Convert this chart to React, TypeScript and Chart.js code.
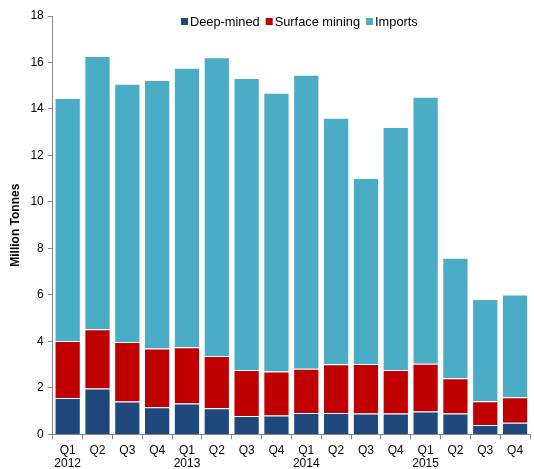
import React, { useEffect, useRef } from "react";
import { Chart, registerables } from "chart.js";

Chart.register(...registerables);

const quarters = ["Q1", "Q2", "Q3", "Q4", "Q1", "Q2", "Q3", "Q4", "Q1", "Q2", "Q3", "Q4", "Q1", "Q2", "Q3", "Q4"];
const years = ["2012", "", "", "", "2013", "", "", "", "2014", "", "", "", "2015", "", "", ""];
const deepMined = [1.57, 1.97, 1.42, 1.17, 1.33, 1.12, 0.79, 0.81, 0.92, 0.92, 0.9, 0.9, 0.98, 0.9, 0.4, 0.5];
const surfaceMining = [2.45, 2.55, 2.55, 2.53, 2.42, 2.25, 1.98, 1.9, 1.9, 2.1, 2.13, 1.87, 2.06, 1.52, 1.03, 1.1];
const totals = [14.47, 16.28, 15.08, 15.25, 15.77, 16.23, 15.33, 14.7, 15.47, 13.62, 11.03, 13.22, 14.53, 7.6, 5.82, 6.02];
const imports = totals.map((t, i) => +(t - deepMined[i] - surfaceMining[i]).toFixed(2));
const yTicks = [0, 2, 4, 6, 8, 10, 12, 14, 16, 18];

const FONT = "'Liberation Sans', Arial, sans-serif";

const legendPlugin = {
  id: "customLegend",
  afterDraw(chart: any) {
    const ctx = chart.ctx;
    const items = chart.data.datasets;
    ctx.save();
    ctx.font = `12.8px ${FONT}`;
    ctx.textBaseline = "middle";
    let x = 181;
    const y = 22;
    items.forEach((ds: any) => {
      ctx.fillStyle = ds.backgroundColor;
      ctx.fillRect(x, y - 4, 7, 7);
      x += 9;
      ctx.fillStyle = "#000";
      ctx.fillText(ds.label, x, y);
      x += ctx.measureText(ds.label).width + 6;
    });
    ctx.restore();
  },
};

export default function App() {
  const ref = useRef<HTMLCanvasElement>(null);
  useEffect(() => {
    const labels = quarters.map((q, i) => [q, years[i]]);
    const common = { borderColor: "rgba(255,255,255,0.6)", borderWidth: 1, barPercentage: 0.88, categoryPercentage: 1 };
    const chart = new Chart(ref.current!, {
      type: "bar",
      data: {
        labels,
        datasets: [
          { label: "Deep-mined", data: deepMined, backgroundColor: "#1F497D", ...common },
          { label: "Surface mining", data: surfaceMining, backgroundColor: "#C00000", ...common },
          { label: "Imports", data: imports, backgroundColor: "#4BACC6", ...common },
        ],
      },
      options: {
        animation: false,
        responsive: false,
        layout: { padding: { top: 16, right: 4, left: 4, bottom: 0 } },
        plugins: { legend: { display: false }, tooltip: { enabled: false } },
        scales: {
          x: {
            stacked: true,
            grid: { offset: true, drawOnChartArea: false, drawTicks: true, tickLength: 5, color: "#868686" },
            border: { color: "#868686" },
            ticks: { color: "#000", font: { family: FONT, size: 12, lineHeight: 1.15 }, maxRotation: 0, autoSkip: false, padding: 4 },
          },
          y: {
            stacked: true,
            min: 0,
            max: 18,
            afterBuildTicks: (axis: any) => {
              axis.ticks = yTicks.map((v) => ({ value: v }));
            },
            grid: { drawOnChartArea: false, drawTicks: true, tickLength: 5, color: "#868686" },
            border: { color: "#868686" },
            ticks: { color: "#000", font: { family: FONT, size: 12 }, padding: 4 },
            title: { display: true, text: "Million Tonnes", color: "#000", font: { family: FONT, size: 12, weight: "bold" }, padding: 4 },
          },
        },
      },
      plugins: [legendPlugin],
    });
    return () => chart.destroy();
  }, []);
  return (
    <div style={{ position: "absolute", left: 0, top: 0, width: 534, height: 469, overflow: "hidden" }}>
      <canvas ref={ref} width={534} height={475} />
    </div>
  );
}
